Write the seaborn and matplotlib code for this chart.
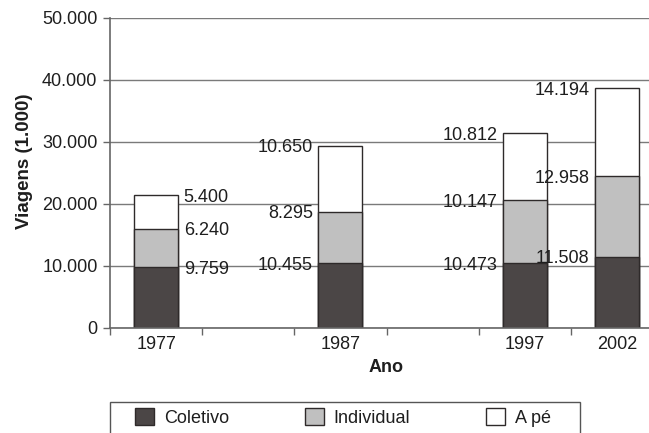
import numpy as np
import pandas as pd
import seaborn as sns
import matplotlib.pyplot as plt
from matplotlib.patches import Patch, Rectangle

# ---DATA-----------------------------------------------------------------------
anos = [1977, 1987, 1997, 2002]
coletivo = [9759, 10455, 10473, 11508]
individual = [6240, 8295, 10147, 12958]
a_pe = [5400, 10650, 10812, 14194]
series_names = ["Coletivo", "Individual", "A pé"]
label_side = ["right", "left", "left", "left"]

cores = {"Coletivo": "#4b4646", "Individual": "#c0c0c0", "A pé": "#ffffff"}
edge = "#2e2a2a"


def fmt(v):
    return f"{int(v):,}".replace(",", ".")


df = pd.DataFrame({"ano": anos, "coletivo": coletivo,
                   "individual": individual, "a_pe": a_pe})
df["top_col"] = df["coletivo"]
df["top_ind"] = df["coletivo"] + df["individual"]
df["top_ape"] = df["top_ind"] + df["a_pe"]

# ---PLOT-----------------------------------------------------------------------
sns.set_theme(style="white")
plt.rcParams["font.family"] = ["Liberation Sans", "DejaVu Sans"]

fig = plt.figure(figsize=(6.49, 4.33), dpi=100)
ax = fig.add_axes([110 / 649, 105 / 433, 553 / 649, 310 / 433])

# stacked bars drawn as overlapping cumulative totals
for col, name in [("top_ape", "A pé"), ("top_ind", "Individual"),
                  ("top_col", "Coletivo")]:
    sns.barplot(data=df, x="ano", y=col, native_scale=True, orient="x",
                width=0.478, color=cores[name], saturation=1,
                edgecolor=edge, linewidth=1, errorbar=None, ax=ax)

# value labels beside each segment
half = 2.39 / 2
for i, ano in enumerate(anos):
    vals = [coletivo[i], individual[i], a_pe[i]]
    tops = np.cumsum(vals)
    for v, t in zip(vals, tops):
        if label_side[i] == "right":
            ax.annotate(fmt(v), (ano + half, t), xytext=(4, -1.5),
                        textcoords="offset points", ha="left", va="center",
                        fontsize=13, color="#1e1e1e", annotation_clip=False)
        else:
            ax.annotate(fmt(v), (ano - half, t), xytext=(-4, -1.5),
                        textcoords="offset points", ha="right", va="center",
                        fontsize=13, color="#1e1e1e", annotation_clip=False)

ax.set_xlim(1974.5, 2004.5)
ax.set_ylim(0, 50000)
ax.set_yticks(range(0, 50001, 10000))
ax.set_yticklabels([fmt(v) for v in range(0, 50001, 10000)])
ax.set_xticks(anos)
ax.set_xticklabels([str(a) for a in anos])
ax.set_xticks(np.arange(1974.5, 2005, 5), minor=True)

ax.tick_params(axis="x", which="major", length=0, pad=6, labelsize=13,
               labelcolor="#1e1e1e")
ax.tick_params(axis="x", which="minor", length=5, width=1, color="#666666",
               direction="out", bottom=True)
ax.tick_params(axis="y", length=5, width=1, color="#666666", pad=4,
               direction="out", left=True, labelsize=13, labelcolor="#1e1e1e")

ax.yaxis.grid(True, color="#7a7a7a", linewidth=1)
ax.set_axisbelow(True)
for s in ["top", "right"]:
    ax.spines[s].set_visible(False)
for s in ["left", "bottom"]:
    ax.spines[s].set_color("#666666")
    ax.spines[s].set_linewidth(1.2)

ax.set_xlabel("Ano", fontsize=13, fontweight="bold", color="#1e1e1e",
              labelpad=4)
ax.set_ylabel("Viagens (1.000)", fontsize=13.5, fontweight="bold",
              color="#1e1e1e")
ax.yaxis.set_label_coords(-0.139, 0.537)

# legend box cut by the bottom of the figure
fig.add_artist(Rectangle((110 / 649, -0.1), 470 / 649, 31 / 433 + 0.1,
                         transform=fig.transFigure, fill=False,
                         edgecolor="#555555", linewidth=1))
handles = [Patch(facecolor=cores[n], edgecolor=edge, linewidth=1)
           for n in series_names]
fig.legend(handles, series_names, loc="upper left",
           bbox_to_anchor=(135 / 649, 1 - 408 / 433), ncol=3, frameon=False,
           borderpad=0, borderaxespad=0, handlelength=1.05,
           handleheight=1.05, handletextpad=0.55, columnspacing=4.2,
           fontsize=13, labelcolor="#1e1e1e")

fig.savefig("out.png", dpi=100)
